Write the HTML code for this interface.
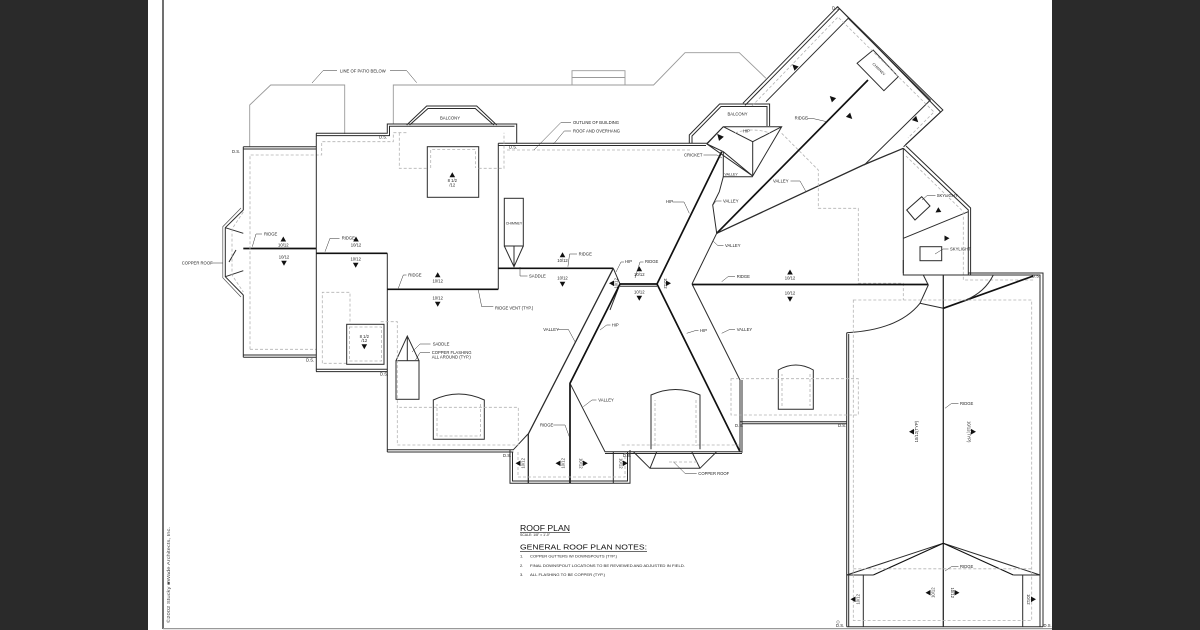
<!DOCTYPE html>
<html><head><meta charset="utf-8">
<style>
html,body{margin:0;padding:0;background:#fff;}
svg{display:block}
.o{stroke:#2b2b2b;stroke-width:1;fill:none}
.e{stroke:#555;stroke-width:0.7;fill:none}
.t{stroke:#111;stroke-width:1.7;fill:none}
.g{stroke:#9a9a9a;stroke-width:0.9;fill:none}
.d{stroke:#b3b3b3;stroke-width:0.8;fill:none;stroke-dasharray:3 2}
.l{stroke:#333;stroke-width:0.5;fill:none}
text{font-family:"Liberation Sans",sans-serif;fill:#222;font-size:4.2px}
.a{fill:#111;stroke:none}
</style></head><body>
<svg width="1200" height="630" viewBox="0 0 1200 630">
<rect width="1200" height="630" fill="#fff"/>
<rect x="0" y="0" width="148" height="630" fill="#2a2a2a"/>
<rect x="1052" y="0" width="148" height="630" fill="#2a2a2a"/>
<line x1="163" y1="0" x2="163" y2="629" stroke="#333" stroke-width="1.4"/>
<line x1="163" y1="628.6" x2="1052" y2="628.6" stroke="#999" stroke-width="1.2"/>

<!-- patio -->
<path class="g" d="M249.7,146.7 V105 L270.7,85 H344.7 V134"/>
<path class="g" d="M393.3,124 V85 H653.6 L685,52.7 H739.3 L766,78.3"/>
<path class="g" d="M572,85 V70.7 H625 V85 M572,77.5 H625"/>
<text x="340" y="72.3">LINE OF PATIO BELOW</text>
<path class="l" d="M337,70.7 H323 L312,83 M390,70.7 H406.7 L416.7,82.7"/>

<!-- left wing -->
<path class="o" d="M243.3,146.8 H316 M243.3,146.8 V210 M243.3,295 V357.3 M243.3,355 H316"/>
<path class="o" d="M243.3,149 H316 M243.3,357.3 H316"/>
<path class="t" d="M243.3,248.5 H316"/>
<path class="o" d="M243.3,210 L225.3,227.7 V276.7 L243.3,295 M225.3,227.7 L243.3,233.3 M225.3,276.7 L243.3,270.7 M236,250 L229,262"/>
<path class="e" d="M241,208 L222.8,226.7 V277.7 L241,297"/>
<path class="d" d="M250,349.3 V155 H321.7 V141.7 H393.3 V132.7 H407 M250,349.3 H316 M243.3,212 L232,229 V275 L243.3,292"/>
<text x="181.7" y="264.5">COPPER ROOF</text>
<path class="l" d="M211,263 H223"/>
<text x="264" y="235.5">RIDGE</text>
<path class="l" d="M262,234 H256 L252.3,246.7"/>

<!-- second block -->
<path class="o" d="M316.3,133.3 V371.5 M316,133.3 H387.3 V124 H516.7 V143.3 M316,369.3 H387.3 M387.3,253.3 V452"/>
<path class="o" d="M316,135.6 H389.5 V126.3 H514.5 M316,371.6 H387.3"/>
<path class="t" d="M316.3,253.3 H387.3 M387.3,289.3 H498.3"/>
<path class="o" d="M498.3,143.3 V289.3"/>
<text x="341.7" y="239.5">RIDGE</text>
<path class="l" d="M339.5,238.3 H330 L325,251.7"/>
<path class="d" d="M322.3,363.3 V292.3 H350 V324.3 M346.7,363.3 H322.3"/>

<!-- center top -->
<path class="o" d="M498.3,143.3 H707 L723.3,126.7 M498.3,145.5 H706"/>
<path class="d" d="M507,150 H692"/>
<path class="o" d="M406.7,125 L426.7,106 H476.7 L496.7,125 M409.6,125 L428,108.5 H475.3 L493.8,125"/>
<text x="450" y="119.5" text-anchor="middle">BALCONY</text>
<rect class="o" x="427.3" y="146.7" width="51.4" height="50.6"/>
<path class="d" d="M399.3,132.7 V168.3 H427.3 M478.7,168.3 H504 V132.7 M430.7,168 V149.5 H475.5 V168"/>
<rect class="o" x="504.3" y="198.3" width="19" height="47.7"/>
<path class="o" d="M504.3,246 L514,266.7 L523.3,246 M514,246 V266.7"/>
<text x="514" y="224.5" text-anchor="middle" style="font-size:3.6px">CHIMNEY</text>
<path class="t" d="M498.3,268.3 H613.3"/>
<text x="529" y="277.5">SADDLE</text>
<path class="l" d="M520,267 V276 H527.5"/>
<text x="495" y="309.5">RIDGE VENT (TYP.)</text>
<path class="l" d="M478.3,290 L481.7,306.7 H493.3"/>
<text x="408.3" y="276.5">RIDGE</text>
<path class="l" d="M406.5,275 H403.3 L398.3,288.3"/>
<text x="578.6" y="255.5">RIDGE</text>
<path class="l" d="M577,254 H569.6 L567.9,266.7"/>
<text x="573" y="124">OUTLINE OF BUILDING</text>
<text x="573" y="132.5">ROOF AND OVERHANG</text>
<path class="l" d="M571,122.7 H560.7 L533.9,150 M571,131 H564.3 L553.6,144"/>

<!-- lower left -->
<path class="o" d="M387.3,449.8 H513.3 L528,434 M387.3,452 H513.3"/>
<rect class="o" x="396" y="360.7" width="23" height="38.6"/>
<path class="o" d="M396,360.7 L407.3,336 L419,360.7 M407.3,336 V360.7"/>
<text x="432.7" y="345.5">SADDLE</text>
<text x="431.7" y="354">COPPER FLASHING</text>
<text x="431.7" y="358.6">ALL AROUND (TYP.)</text>
<path class="l" d="M430.5,344 H420 L412,352 M430,352.7 H420 L415.5,360"/>
<rect class="o" x="346.7" y="324.3" width="37.3" height="40"/>
<rect class="d" x="349.5" y="327" width="32" height="34"/>
<path class="o" d="M433.3,439.3 V400 Q458.8,388 484.3,400 V439.3 Z"/>
<path class="d" d="M437,436 V404 M480.5,404 V436 H437"/>
<path class="d" d="M380.7,321.7 H397.3 V445 H518.3 V407.3 H399.3"/>

<!-- center hip region -->
<path class="o" d="M613.3,268.3 L528.3,434 V483.3" style="stroke-width:1.3"/>
<path class="o" d="M613.3,268.3 L620,284 L610,310"/>
<path class="t" d="M620,284 H657 M620,284 L570,383.3 V483.3 M657,284 L740,451.7 M657,284 L721.7,151.7"/>
<path class="o" d="M620,286.3 H657"/>
<path class="o" d="M692,284 L740,380 V451.7 M742,380 V452.7 M570,383.3 L605,451.7 H742 M605,453.5 H742"/>
<path class="o" d="M723.3,176.7 L719.3,191.7 L712.7,205 L716.7,233.3 L692,284"/>
<text x="543.3" y="330.8">VALLEY</text>
<path class="l" d="M558,329.3 H568.3 L575,341.7"/>
<text x="611.7" y="326.5">HIP</text>
<path class="l" d="M610.5,325 H606.7 L600,330"/>
<text x="700" y="332.2">HIP</text>
<path class="l" d="M698.5,330.7 H695 L686.7,333.3"/>
<text x="736.7" y="330.8">VALLEY</text>
<path class="l" d="M735,329.3 H730 L721.7,333.3"/>
<text x="598.3" y="401.5">VALLEY</text>
<path class="l" d="M596.5,400 H592 L583.3,406.7"/>
<text x="540" y="426.5">RIDGE</text>
<path class="l" d="M553.3,425 H565 L569.3,436.7"/>
<text x="666" y="203.2">HIP</text>
<path class="l" d="M672.5,202 H684 L689.3,213.3"/>
<text x="625" y="263">HIP</text>
<text x="645" y="263">RIDGE</text>
<path class="l" d="M624,262 H621 L616,272 M643.5,262 H640 L635,278"/>
<text x="723" y="202.5">VALLEY</text>
<path class="l" d="M721.5,201 H716 L713,205"/>
<text x="725" y="247.2">VALLEY</text>
<path class="l" d="M723.5,245.7 H718 L713,241"/>

<!-- bottom gable -->
<path class="o" d="M510,450 V483.3 H630 V450 M512.5,452 V481 H627.5 V452 M613.3,451.7 V483.3"/>
<path class="d" d="M518,452 V477 H625 V452"/>
<path class="o" d="M633.3,451.7 L650,468.3 H700 L716.7,451.7 M656.7,451.7 L650,468.3 M691.7,451.7 L700,468.3"/>
<path class="d" d="M621.7,445 H740 M669,462 H699"/>
<path class="o" d="M651,449.3 V395 Q675.5,384 700,395 V449.3"/>
<path class="d" d="M655,446 V400 M696,400 V446"/>
<text x="698.3" y="475">COPPER ROOF</text>
<path class="l" d="M673.3,461.7 L685,473.3 H696.7"/>

<!-- cricket / balcony right -->
<path class="o" d="M707,144 L723.3,126.7 L781.7,126.7 L752.7,176 Z M723.3,126.7 L752.7,141.7 L781.7,126.7 M752.7,141.7 V176 M723.3,151.7 V176.7 H752.7 M707,144 L723.3,151.7 L752.7,176"/>
<path class="d" d="M735,133 Q752,127 770,133"/>
<text x="742.9" y="132.3">HIP</text>
<path class="o" d="M689.3,143.3 V135 L719.6,104 H769.6 V126 M692,143.3 V136 L721,106.5 H767 V126"/>
<text x="737.5" y="115.5" text-anchor="middle">BALCONY</text>
<text x="684" y="156.5">CRICKET</text>
<path class="l" d="M703.5,155 H717 L722,158"/>
<text x="724.5" y="175.3" style="font-size:3.6px">VALLEY</text>

<!-- NE wing -->
<path class="o" d="M742.9,103.3 L837.5,6.7 L942.9,110 L903.6,146.7"/>
<path class="o" d="M745,105.4 L839.6,8.8 L940.6,112 L905.5,144.7"/>
<path class="o" d="M766,101.7 L848.2,18.3 L930.4,100 L864.3,165"/>
<path class="t" d="M716.7,233.3 L868,80"/>
<path class="o" d="M716.7,233.3 L863.3,165 L903.3,148.3" style="stroke-width:1.3"/>
<polygon class="o" points="857.1,63.3 873.2,50 898.2,76.7 883.9,90.7"/>
<text transform="translate(878,70) rotate(45)" text-anchor="middle" style="font-size:3.6px">CHIMNEY</text>
<path class="d" d="M752,106 L838,17 L934,112 L908,138"/>
<path class="d" d="M781.7,133.3 L818.3,170 V208.3 H858.3 V283.3 H903.3 V300"/>
<text x="794.6" y="119.5">RIDGE</text>
<path class="l" d="M807,118.3 H812 L826.8,121.7"/>
<text x="773" y="182.5">VALLEY</text>
<path class="l" d="M790.5,181 H800 L806,191.7"/>
<text x="832" y="9.5">D.S.</text>

<!-- E wing -->
<path class="o" d="M903.3,148.3 V273.3 M903.3,148.3 L968.3,210 V275 M906,146 L970.6,208 V275"/>
<path class="o" d="M903.3,238.3 L968.3,211.7"/>
<polygon class="o" points="906.7,210 921.7,196.7 930,206 915,220"/>
<rect class="o" x="920" y="246.7" width="21.7" height="14"/>
<text x="936.7" y="197.2">SKYLIGHT</text>
<path class="l" d="M935.5,195.7 H927 L922,200"/>
<text x="950" y="250.5">SKYLIGHT</text>
<path class="l" d="M948.5,249 H943 L935,254"/>
<path class="d" d="M906,156 L963.3,211.7 V280 H1033.3"/>

<!-- long ridge -->
<path class="t" d="M692,284.5 H928.3"/>
<path class="o" d="M923.3,275 L928.3,285 L920,303.3 L943.3,308.3 M920,303.3 C905,322 880,331 846.7,332.7"/>
<text x="736.7" y="278">RIDGE</text>
<path class="l" d="M735,276.7 H728 L721.7,281.7"/>

<!-- middle right -->
<path class="o" d="M740,421.7 H846.7 M742,423.8 H846.7"/>
<path class="o" d="M846.7,332.7 V626.7 M848.7,334 V626.7"/>
<path class="o" d="M778.3,409.3 V370 Q795.8,360 813.3,370 V409.3 Z"/>
<path class="d" d="M782,406 V374 M810,374 V406"/>
<rect class="d" x="731" y="378.7" width="127.3" height="36.3"/>

<!-- big right wing -->
<path class="o" d="M903.3,260 V275 H1040 V626.7 M968,273 H1043 V626.7 M846.7,626.7 H1043"/>
<path class="o" d="M943.3,275 V626.7" style="stroke-width:1.3"/>
<path class="t" d="M943.3,308.3 L1033.3,276"/>
<path class="o" d="M993.3,275 Q985,292 966,300"/>
<path class="o" d="M846.7,575 L943.3,543.3 L1040,575 M846.7,575 H873.3 M1013.3,575 H1040 M863.3,575 V626.7 M1022.7,575 V626.7"/>
<path class="t" d="M943.3,543.3 L873.3,575 M943.3,543.3 L1013.3,575" style="stroke-width:1.1"/>
<rect class="d" x="853.3" y="300" width="178.4" height="320.5"/>
<path class="d" d="M853.3,568.8 H1031.7"/>
<text x="960" y="405">RIDGE</text>
<path class="l" d="M958.5,403.3 H951.7 L945,408.3"/>
<text x="960" y="568">RIDGE</text>
<path class="l" d="M958.5,566.5 H951.7 L945,571"/>
<circle cx="838" cy="622" r="1.3" fill="none" stroke="#555" stroke-width="0.4"/>

<!-- D.S. labels -->
<g style="font-size:3.6px">
<text x="232" y="153">D.S.</text>
<text x="379" y="138.5">D.S.</text>
<text x="509" y="148.5">D.S.</text>
<text x="306" y="361.5">D.S.</text>
<text x="380" y="375.5">D.S.</text>
<text x="503" y="457">D.S.</text>
<text x="623" y="457">D.S.</text>
<text x="735" y="427">D.S.</text>
<text x="838" y="427">D.S.</text>
<text x="1032" y="277.5">D.S.</text>
<text x="836" y="627">D.S.</text>
<text x="1043.5" y="627">D.S.</text>
</g>

<!-- arrows -->
<g class="a">
<polygon points="280.5,241.5 283.3,236.5 286.1,241.5"/>
<polygon points="353.2,241.5 356,236.5 358.8,241.5"/>
<polygon points="434.9,277.2 437.7,272.2 440.5,277.2"/>
<polygon points="449.5,177.2 452.3,172.2 455.1,177.2"/>
<polygon points="559.7,257.2 562.5,252.2 565.3,257.2"/>
<polygon points="636.5,271.2 639.3,266.2 642.1,271.2"/>
<polygon points="787.2,274.5 790,269.5 792.8,274.5"/>
<polygon points="281.2,260.8 284,265.8 286.8,260.8"/>
<polygon points="352.9,262.8 355.7,267.8 358.5,262.8"/>
<polygon points="434.9,301.8 437.7,306.8 440.5,301.8"/>
<polygon points="361.5,344.2 364.3,349.2 367.1,344.2"/>
<polygon points="559.7,281.8 562.5,286.8 565.3,281.8"/>
<polygon points="636.5,295.8 639.3,300.8 642.1,295.8"/>
<polygon points="787.2,296.8 790,301.8 792.8,296.8"/>
<polygon points="614,280.5 609,283.3 614,286.1"/>
<polygon points="666,280.5 671,283.3 666,286.1"/>
<polygon points="520.5,460.5 515.5,463.3 520.5,466.1"/>
<polygon points="560.5,460.5 555.5,463.3 560.5,466.1"/>
<polygon points="582.8,460.5 587.8,463.3 582.8,466.1"/>
<polygon points="622.8,460.5 627.8,463.3 622.8,466.1"/>
<polygon points="914,428.9 909,431.7 914,434.5"/>
<polygon points="971,428.9 976,431.7 971,434.5"/>
<polygon points="855.5,596.5 850.5,599.3 855.5,602.1"/>
<polygon points="930.5,589.9 925.5,592.7 930.5,595.5"/>
<polygon points="954.5,589.9 959.5,592.7 954.5,595.5"/>
<polygon points="1031,596.5 1036,599.3 1031,602.1"/>
<polygon points="944.5,235.5 949.5,238.3 944.5,241.1"/>
<polygon points="935.5,212.5 938.3,207.3 941.3,212"/>
<polygon points="719.6,133 716.5,139.5 722.8,139.5" transform="rotate(-40 719.6 136.7)"/>
<polygon points="794.6,63.5 791.6,69.5 797.6,69.5" transform="rotate(-45 794.6 66.7)"/>
<polygon points="832.1,95 829.1,101 835.1,101" transform="rotate(-45 832.1 98.3)"/>
<polygon points="850,113.5 847,119.5 853,119.5" transform="rotate(135 850 116.7)"/>
<polygon points="916,116.8 913,122.8 919,122.8" transform="rotate(135 916 120)"/>
</g>

<!-- pitch labels -->
<g text-anchor="middle" style="font-size:3.4px">
<text x="283.3" y="246.5">10/12</text>
<text x="356" y="246.5">10/12</text>
<text x="437.7" y="282.5">10/12</text>
<text x="452.3" y="182">8 1/2</text>
<text x="452.3" y="186.3">/12</text>
<text x="562.5" y="262">10/12</text>
<text x="639.3" y="276">10/12</text>
<text x="790" y="279.5">10/12</text>
<text x="284" y="258.3">10/12</text>
<text x="355.7" y="260.3">10/12</text>
<text x="437.7" y="299.3">10/12</text>
<text x="364.3" y="338">8 1/2</text>
<text x="364.3" y="342">/12</text>
<text x="562.5" y="279.3">10/12</text>
<text x="639.3" y="293.3">10/12</text>
<text x="790" y="294.3">10/12</text>
<text transform="translate(617.5,283.3) rotate(-90)">10/12</text>
<text transform="translate(664,283.3) rotate(90)">10/12</text>
<text transform="translate(524.5,463.3) rotate(-90)">10/12</text>
<text transform="translate(564.5,463.3) rotate(-90)">10/12</text>
<text transform="translate(579.5,463.3) rotate(90)">10/12</text>
<text transform="translate(619.5,463.3) rotate(90)">10/12</text>
<text transform="translate(918,431.7) rotate(-90)">10/12(TYP)</text>
<text transform="translate(967.5,431.7) rotate(90)">10/12(TYP)</text>
<text transform="translate(859.5,599.3) rotate(-90)">10/12</text>
<text transform="translate(934.5,592.7) rotate(-90)">10/12</text>
<text transform="translate(951,592.7) rotate(90)">10/12</text>
<text transform="translate(1027,599.3) rotate(90)">10/12</text>
</g>

<!-- title block -->
<text x="520" y="531" textLength="50" lengthAdjust="spacingAndGlyphs" style="font-size:8px;fill:#111">ROOF PLAN</text>
<line x1="520" y1="532.3" x2="570" y2="532.3" stroke="#111" stroke-width="0.6"/>
<text x="520" y="536" textLength="30" lengthAdjust="spacingAndGlyphs" style="font-size:3.4px">SCALE: 1/8" = 1'-0"</text>
<text x="520" y="549.5" textLength="127" lengthAdjust="spacingAndGlyphs" style="font-size:7.5px;fill:#111">GENERAL ROOF PLAN NOTES:</text>
<line x1="520" y1="551.3" x2="647" y2="551.3" stroke="#111" stroke-width="0.6"/>
<text x="520" y="557.5" style="font-size:4px">1.</text>
<text x="530" y="557.5" textLength="87" lengthAdjust="spacingAndGlyphs" style="font-size:4px">COPPER GUTTERS W/ DOWNSPOUTS (TYP.)</text>
<text x="520" y="567" style="font-size:4px">2.</text>
<text x="530" y="567" textLength="155" lengthAdjust="spacingAndGlyphs" style="font-size:4px">FINAL DOWNSPOUT LOCATIONS TO BE REVIEWED AND ADJUSTED IN FIELD.</text>
<text x="520" y="576" style="font-size:4px">3.</text>
<text x="530" y="576" textLength="75" lengthAdjust="spacingAndGlyphs" style="font-size:4px">ALL FLASHING TO BE COPPER (TYP.)</text>

<!-- copyright -->
<text transform="translate(170,623) rotate(-90)" textLength="96" lengthAdjust="spacingAndGlyphs" style="font-size:4.5px;fill:#444">©2002 Stucky ■Wade Architects, Inc.</text>
</svg>
</body></html>
